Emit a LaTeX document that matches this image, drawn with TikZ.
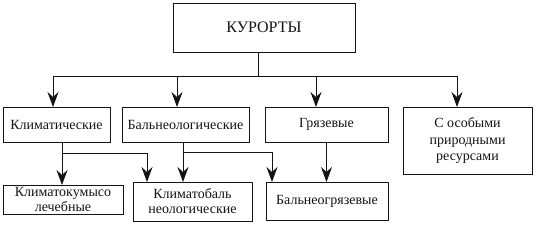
\documentclass[tikz,border=0pt]{standalone}
\usepackage{fontspec}
\setmainfont{Liberation Serif}
\usetikzlibrary{arrows.meta,calc}
\definecolor{ResortInk}{gray}{0.08}
\definecolor{ResortPaper}{gray}{1.00}
\tikzset{
    resort/diagram/.style={
        font=\fontsize{14}{15}\selectfont,
        draw=ResortInk,
        text=ResortInk,
        line width=0.8pt,
        line cap=butt,
        line join=miter,
        >=Stealth,
        every node/.style={inner sep=2pt, outer sep=0pt}
    },
    resort/box/.style={
        draw=ResortInk, line width=0.8pt, fill=ResortPaper,
        align=center, rectangle
    },
    resort/title/.style={
        resort/box, font=\fontsize{16}{18}\selectfont
    },
    resort/line/.style={draw=ResortInk, line width=0.8pt},
    resort/arrow/.style={
        draw=ResortInk, line width=0.8pt,
        -{Stealth[length=15pt, width=11pt, inset=5pt]}
    }
}

\begin{document}
\begin{tikzpicture}[resort/diagram, x=1pt, y=1pt]
    \useasboundingbox (0,0) rectangle (536,226);
    \node[resort/title, minimum width=182, minimum height=49] (top)
        at (264,198.5) {КУРОРТЫ};
    \node[resort/box, minimum width=107, minimum height=35] (klim)
        at (56.5,101.5) {Климатические};
    \node[resort/box, minimum width=127, minimum height=35] (baln)
        at (185.5,101.5) {Бальнеологические};
    \node[resort/box, minimum width=123, minimum height=35] (gryaz)
        at (326.5,101.5) {Грязевые};
    \node[resort/box, minimum width=129, minimum height=67,
        font=\fontsize{14}{16.5}\selectfont] (osob)
        at (467.5,85.5) {С особыми\\природными\\ресурсами};
    \node[resort/box, minimum width=120, minimum height=29, inner sep=0pt] (klimkum)
        at (63,26.5) {Климатокумысо\\лечебные};
    \node[resort/box, minimum width=119, minimum height=39, inner sep=0pt] (klimbaln)
        at (192.5,24.5) {Климатобаль\\неологические};
    \node[resort/box, minimum width=122, minimum height=38] (balngryaz)
        at (327,25) {Бальнеогрязевые};
    \draw[resort/line] ([xshift=-6]top.south) -- ++(0,-24) coordinate (bus);
    \draw[resort/arrow] (bus) -| ([xshift=-3.5]klim.north);
    \draw[resort/arrow] (bus) -| ([xshift=-8.5]baln.north);
    \draw[resort/arrow] (bus) -| ([xshift=-10.5]gryaz.north);
    \draw[resort/arrow] (bus) -| ([xshift=-10.5]osob.north);
    \coordinate (kjoin) at ([xshift=5.5,yshift=-11]klim.south);
    \draw[resort/arrow] ([xshift=5.5]klim.south) -- (kjoin |- klimkum.north);
    \draw[resort/arrow] (kjoin) -| ([xshift=-45.5]klimbaln.north);
    \coordinate (bjoin) at ([xshift=-2.5,yshift=-10]baln.south);
    \draw[resort/arrow] ([xshift=-2.5]baln.south) -- (bjoin |- klimbaln.north);
    \draw[resort/arrow] (bjoin) -| ([xshift=-55]balngryaz.north);
    \draw[resort/arrow] (gryaz.south) -- (gryaz.south |- balngryaz.north);
\end{tikzpicture}
\end{document}
